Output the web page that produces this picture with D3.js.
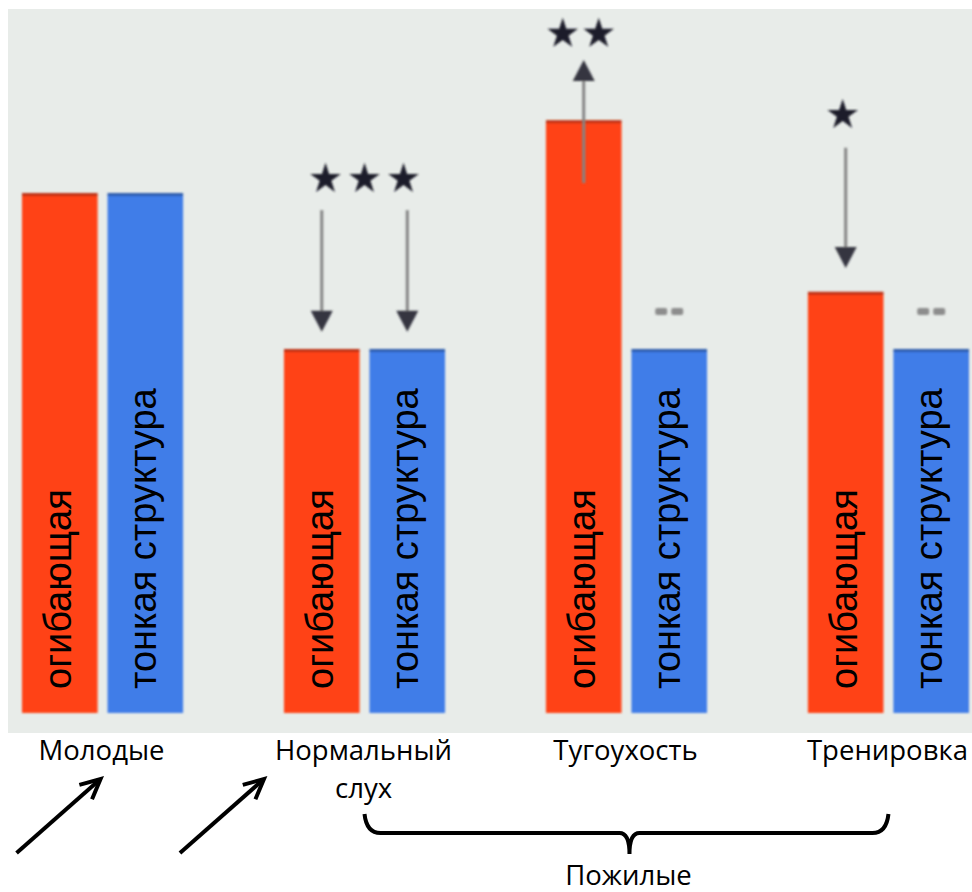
<!DOCTYPE html>
<html>
<head>
<meta charset="utf-8">
<script src="https://cdn.jsdelivr.net/npm/d3@7"></script>
<style>
  html, body { margin: 0; padding: 0; background: #ffffff; }
  svg { display: block; }
</style>
</head>
<body>
<svg id="chart" width="972" height="892"></svg>
<script>
// ---- data ----
const groups = ["Молодые", "Нормальный слух", "Тугоухость", "Тренировка"];
const groupLabels = [["Молодые"], ["Нормальный", "слух"], ["Тугоухость"], ["Тренировка"]];
const series = ["огибающая", "тонкая структура"];
const envelopeValues = [100, 70, 114, 81];
const fineValues = [100, 70, 70, 70];
// significance annotations: group index, series index, arrow start value, arrow tip value, stars
const arrowGroups = [1, 1, 2, 3];
const arrowSeries = [0, 1, 0, 0];
const arrowFrom = [96.7, 96.7, 101.9, 108.7];
const arrowTo = [73.3, 73.3, 125.6, 85.6];
const starGroups = [1, 2, 3];
const starCounts = [3, 2, 1];
const starValues = [102.9, 130.8, 115.2];
const nsGroups = [2, 3];
const nsValue = 77.1;
const braceLabel = "Пожилые";

const colors = ["#ff4318", "#3f7de8"];

const svg = d3.select("#chart");
const W = 972, H = 892;

const defs = svg.append("defs");
defs.append("filter").attr("id", "soft").attr("x", "-10%").attr("y", "-10%").attr("width", "120%").attr("height", "120%")
  .append("feGaussianBlur").attr("stdDeviation", 0.9);
defs.append("filter").attr("id", "softer").attr("x", "-50%").attr("y", "-50%").attr("width", "200%").attr("height", "200%")
  .append("feGaussianBlur").attr("stdDeviation", 1.3);

// plot background
svg.append("rect").attr("x", 8).attr("y", 9).attr("width", W - 8).attr("height", 733 - 9).attr("fill", "#e8ece9");

const x = d3.scaleBand().domain(groups).range([22, 969]).paddingInner(0.385).paddingOuter(0);
const xs = d3.scaleBand().domain(series).range([0, x.bandwidth()]).paddingInner(0.116).paddingOuter(0);
const y = d3.scaleLinear().domain([0, 100]).range([713, 193]);

const rows = [];
groups.forEach((g, i) => {
  rows.push({ g, s: series[0], v: envelopeValues[i], c: colors[0] });
  rows.push({ g, s: series[1], v: fineValues[i], c: colors[1] });
});

const barG = svg.append("g").attr("filter", "url(#soft)");
barG.selectAll("rect.bar").data(rows).join("rect")
  .attr("class", "bar")
  .attr("x", d => x(d.g) + xs(d.s))
  .attr("y", d => y(d.v))
  .attr("width", xs.bandwidth())
  .attr("height", d => y(0) - y(d.v))
  .attr("fill", d => d.c);
// darker top edge
barG.selectAll("rect.top").data(rows).join("rect")
  .attr("class", "top")
  .attr("x", d => x(d.g) + xs(d.s))
  .attr("y", d => y(d.v))
  .attr("width", xs.bandwidth())
  .attr("height", 3)
  .attr("fill", "#000").attr("opacity", 0.25);

// rotated labels inside bars
svg.append("g").selectAll("text").data(rows).join("text")
  .attr("transform", d => {
    const cx = x(d.g) + xs(d.s) + xs.bandwidth() / 2 + 11;
    return `translate(${cx},${y(0) - 24}) rotate(-90)`;
  })
  .attr("text-anchor", "start")
  .attr("font-family", "'Liberation Sans', Arial, sans-serif")
  .attr("font-size", 38)
  .attr("fill", "#000")
  .text(d => d.s);

// arrows
const annG = svg.append("g").attr("filter", "url(#soft)");
arrowGroups.forEach((gi, k) => {
  const cx = x(groups[gi]) + xs(series[arrowSeries[k]]) + xs.bandwidth() / 2;
  const y0 = y(arrowFrom[k]), y1 = y(arrowTo[k]);
  const dir = y1 > y0 ? 1 : -1;
  annG.append("line")
    .attr("x1", cx).attr("x2", cx)
    .attr("y1", y0).attr("y2", y1 - dir * 12)
    .attr("stroke", "#858585").attr("stroke-width", 3);
  annG.append("path")
    .attr("d", `M${cx - 11},${y1 - dir * 21} L${cx + 11},${y1 - dir * 21} L${cx},${y1} Z`)
    .attr("fill", "#34343f");
});

// stars
const star = d3.symbol().type(d3.symbolStar).size(290);
starGroups.forEach((gi, k) => {
  const n = starCounts[k];
  let cx;
  if (gi === 1) cx = x(groups[gi]) + x.bandwidth() / 2;
  else cx = x(groups[gi]) + xs(series[0]) + xs.bandwidth() / 2 - 3;
  const spacing = gi === 1 ? 39 : 36;
  for (let j = 0; j < n; j++) {
    const sx = cx + (j - (n - 1) / 2) * spacing;
    annG.append("path")
      .attr("d", star())
      .attr("transform", `translate(${sx},${y(starValues[k]) + 1})`)
      .attr("fill", "#1e1e2a");
  }
});

// "--" non-significant markers
nsGroups.forEach(gi => {
  const cx = x(groups[gi]) + xs(series[1]) + xs.bandwidth() / 2;
  [-8, 8].forEach(off => {
    svg.append("rect")
      .attr("x", cx + off - 6).attr("y", y(nsValue) - 4)
      .attr("width", 12).attr("height", 7).attr("rx", 2)
      .attr("fill", "#8d8d8d").attr("filter", "url(#softer)");
  });
});

// group labels
const labelFont = "'Open Sans', 'Noto Sans', sans-serif";
groups.forEach((g, i) => {
  const cx = x(g) + x.bandwidth() / 2 - 1;
  groupLabels[i].forEach((line, j) => {
    svg.append("text")
      .attr("x", cx).attr("y", 760 + j * 38)
      .attr("text-anchor", "middle")
      .attr("font-family", labelFont)
      .attr("font-size", 27.5)
      .attr("fill", "#000")
      .text(line);
  });
});

// diagonal arrows
const arrowTips = [[x(groups[0]) + x.bandwidth() / 2 - 2, 779], [x(groups[1]) - 20, 779]];
arrowTips.forEach(([tx, ty]) => {
  const sx = tx - 84, sy = ty + 74;
  const ang = Math.atan2(ty - sy, tx - sx);
  const L = 22, a = 0.45;
  svg.append("line").attr("x1", sx).attr("y1", sy).attr("x2", tx - 2 * Math.cos(ang)).attr("y2", ty - 2 * Math.sin(ang))
    .attr("stroke", "#000").attr("stroke-width", 4);
  svg.append("path")
    .attr("d", `M${tx - L * Math.cos(ang - a)},${ty - L * Math.sin(ang - a)} L${tx},${ty} L${tx - L * Math.cos(ang + a)},${ty - L * Math.sin(ang + a)}`)
    .attr("fill", "none").attr("stroke", "#000").attr("stroke-width", 4).attr("stroke-linejoin", "miter");
});

// brace under elderly groups
const bx0 = x(groups[1]) + x.bandwidth() / 2 + 2;
const bx1 = x(groups[3]) + x.bandwidth() / 2 - 2;
const bmid = x(groups[2]) + x.bandwidth() / 2 + 3;
const by = 833, btop = 814, btip = 854;
svg.append("path")
  .attr("d", `M${bx0 - 2},${btop} Q${bx0},${by} ${bx0 + 14},${by} L${bmid - 10},${by} Q${bmid},${by} ${bmid},${btip}
              M${bmid},${btip} Q${bmid},${by} ${bmid + 10},${by} L${bx1 - 14},${by} Q${bx1},${by} ${bx1 + 2},${btop}`)
  .attr("fill", "none").attr("stroke", "#000").attr("stroke-width", 4);

svg.append("text")
  .attr("x", bmid - 1).attr("y", 885)
  .attr("text-anchor", "middle")
  .attr("font-family", labelFont)
  .attr("font-size", 27.5)
  .attr("fill", "#000")
  .text(braceLabel);
</script>
</body>
</html>
